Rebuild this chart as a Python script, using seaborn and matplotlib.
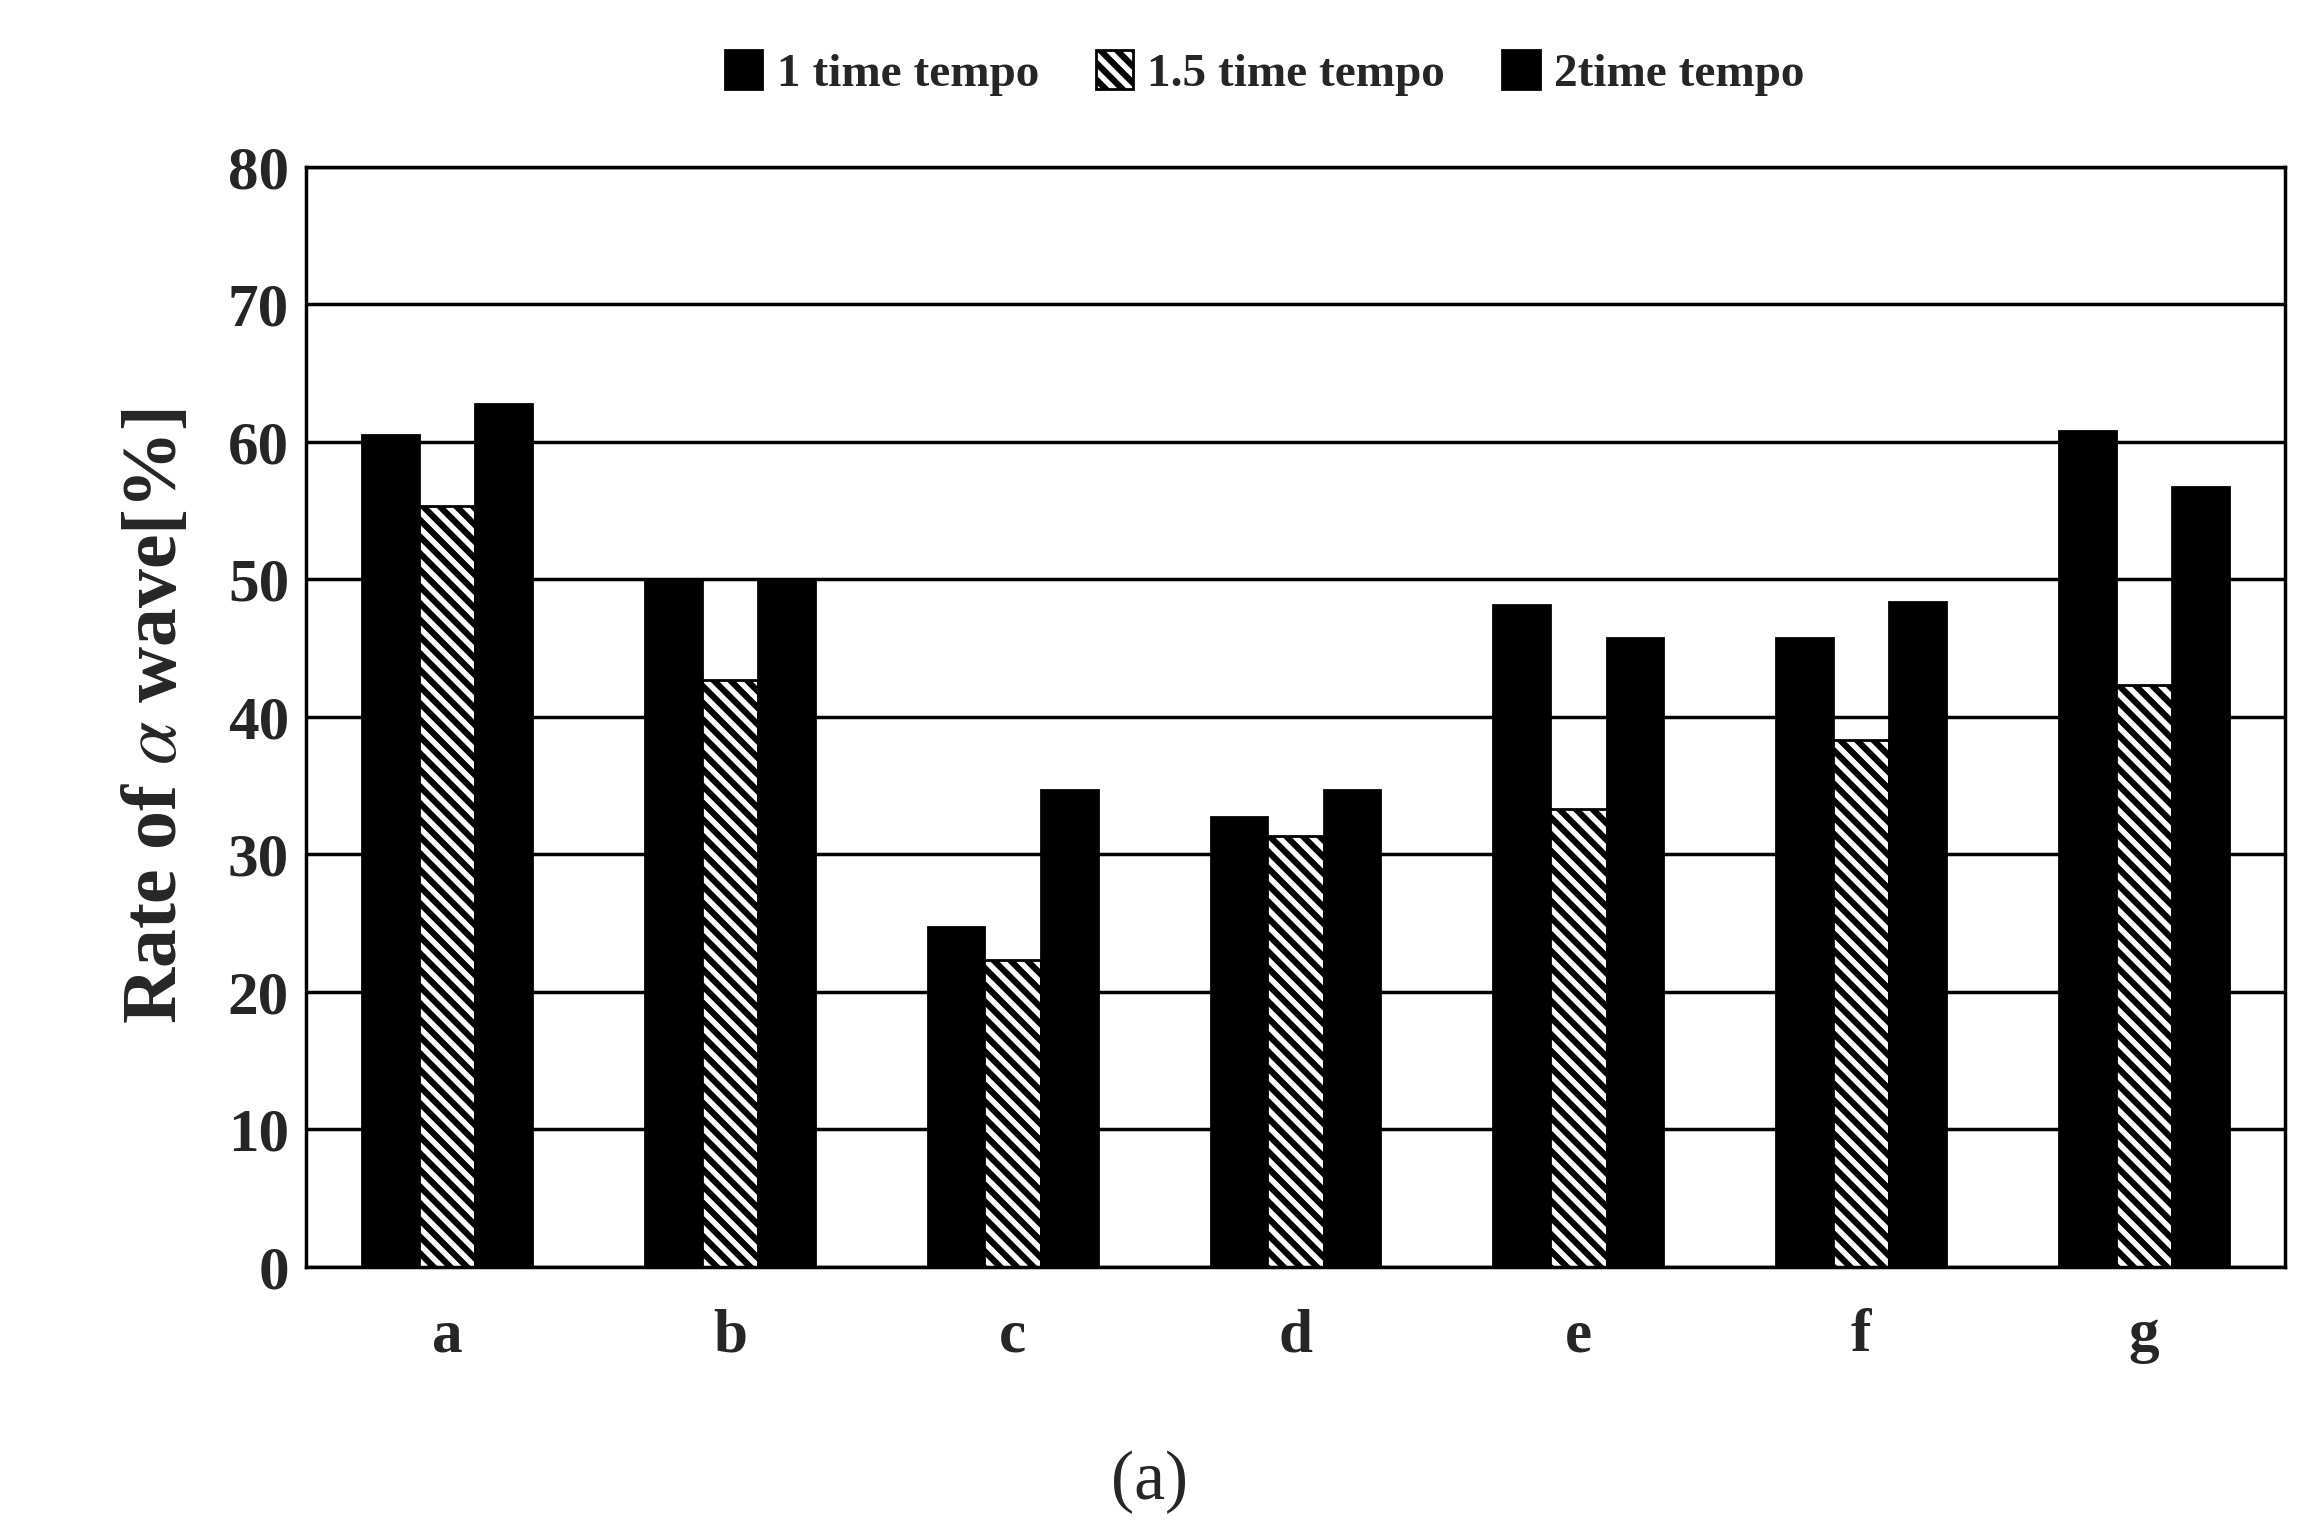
import matplotlib
matplotlib.use("Agg")
import matplotlib.pyplot as plt
from matplotlib.patches import Patch
import seaborn as sns
import pandas as pd

# data
subjects = ['a', 'b', 'c', 'd', 'e', 'f', 'g']
tempo_labels = ['1 time tempo', '1.5 time tempo', '2time tempo']
tempo_1 = [60.5, 50.0, 24.7, 32.7, 48.1, 45.7, 60.8]
tempo_15 = [55.3, 42.7, 22.3, 31.3, 33.3, 38.3, 42.3]
tempo_2 = [62.7, 50.0, 34.7, 34.7, 45.7, 48.3, 56.7]

df = pd.DataFrame({
    'subject': subjects * 3,
    'tempo': [tempo_labels[0]] * 7 + [tempo_labels[1]] * 7 + [tempo_labels[2]] * 7,
    'rate': tempo_1 + tempo_15 + tempo_2,
})

sns.set_style("white")
plt.rcParams['font.family'] = ['Liberation Serif', 'DejaVu Serif']
plt.rcParams['mathtext.fontset'] = 'stix'
plt.rcParams['hatch.linewidth'] = 4.5

fig = plt.figure(figsize=(22.99, 15.28), dpi=100)
ax = fig.add_axes([0.133, 0.171, 0.861, 0.72])

sns.barplot(data=df, x='subject', y='rate', hue='tempo', ax=ax,
            width=0.6, color='black', edgecolor='black', linewidth=2, legend=False)

faces = ['black', 'white', 'white']
hatches = ['', '\\\\', '+++']
for i, cont in enumerate(ax.containers):
    for p in cont:
        p.set_facecolor(faces[i])
        p.set_hatch(hatches[i])
        p.set_edgecolor('black')

ax.set_ylim(0, 80)
ax.set_yticks(range(0, 81, 10))
ax.yaxis.grid(True, color='black', linewidth=2.5)
ax.set_axisbelow(True)
for s in ax.spines.values():
    s.set_color('black')
    s.set_linewidth(2.5)

ax.tick_params(axis='both', labelsize=44, length=0, pad=12)
ax.tick_params(axis='x', pad=30)
for lbl in ax.get_xticklabels() + ax.get_yticklabels():
    lbl.set_fontweight('bold')
ax.set_xlabel('')
ax.set_ylabel(r'Rate of $\alpha$ wave[%]', fontsize=56, fontweight='bold', labelpad=25)

handles = [Patch(facecolor=c, edgecolor='black', hatch=h, linewidth=2)
           for c, h in zip(faces, hatches)]
fig.legend(handles, tempo_labels, loc='upper center', bbox_to_anchor=(0.55, 0.995),
           ncol=3, frameon=False, prop={'size': 34, 'weight': 'bold'},
           handlelength=0.8, handleheight=0.9, columnspacing=1.2, handletextpad=0.3)

fig.text(0.5, 0.03, '(a)', ha='center', va='center', fontsize=50)

fig.savefig('out.png', dpi=100)
